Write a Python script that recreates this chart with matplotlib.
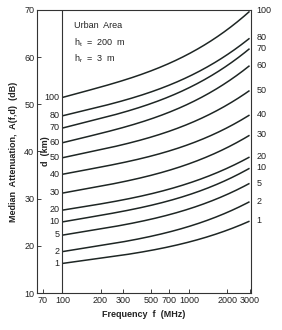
"""
Okumura median attenuation curves, urban area.
"""
import numpy as np
import matplotlib
matplotlib.use('Agg')
import matplotlib.pyplot as plt

plt.rcParams['font.family'] = ['Liberation Sans', 'DejaVu Sans']

# Frequency samples (MHz) and the distance curves (km)
freqs = [100, 200, 300, 500, 700, 1000, 2000, 3000]
distances = [100, 80, 70, 60, 50, 40, 30, 20, 10, 5, 2, 1]

# Median attenuation A(f,d) in dB, one list per distance
atten = {
    100: [51.5, 53.5, 55.0, 57.2, 58.8, 60.7, 65.6, 69.8],
    80: [47.6, 49.4, 50.7, 52.7, 54.2, 55.9, 60.3, 64.1],
    70: [45.0, 46.9, 48.2, 50.2, 51.8, 53.5, 58.0, 61.9],
    60: [41.9, 43.7, 45.0, 47.0, 48.5, 50.1, 54.5, 58.3],
    50: [38.7, 40.3, 41.4, 43.1, 44.4, 45.9, 49.7, 53.0],
    40: [35.2, 36.6, 37.6, 39.1, 40.2, 41.5, 44.9, 47.8],
    30: [31.2, 32.6, 33.5, 35.0, 36.1, 37.4, 40.7, 43.5],
    20: [27.6, 28.8, 29.7, 31.1, 32.1, 33.3, 36.3, 38.9],
    10: [25.1, 26.4, 27.3, 28.6, 29.7, 30.8, 33.9, 36.5],
    5: [22.3, 23.5, 24.4, 25.7, 26.7, 27.8, 30.8, 33.3],
    2: [18.8, 20.0, 20.8, 22.1, 23.0, 24.1, 27.0, 29.4],
    1: [16.3, 17.3, 18.0, 19.1, 19.9, 20.8, 23.2, 25.3],
}

xticks = [70, 100, 200, 300, 500, 700, 1000, 2000, 3000]
yticks = [10, 20, 30, 40, 50, 60, 70]

fig = plt.figure(figsize=(2.82, 3.30), dpi=100)
ax = fig.add_axes([0.131, 0.112, 0.759, 0.858])

ax.set_xscale('log')
ax.set_xlim(63, 3080)
ax.set_ylim(10, 70)

lf = np.log10(freqs)
lx = np.linspace(lf[0], lf[-1], 200)
for d in distances:
    # smooth cubic through the read points (in log frequency)
    p = np.polyfit(lf, atten[d], 3)
    ax.plot(10 ** lx, np.polyval(p, lx), color='#1e2624', lw=1.1,
            solid_capstyle='butt')
    ax.annotate(str(d), (freqs[0], atten[d][0]), xytext=(-2, 0),
                textcoords='offset points', ha='right', va='center',
                fontsize=6.5, color='#222222')
    ax.annotate(str(d), (freqs[-1], atten[d][-1]), xytext=(5, 0),
                textcoords='offset points', ha='left', va='center',
                fontsize=6.5, color='#222222', annotation_clip=False)

# Vertical line at 100 MHz
ax.axvline(100, color='#333333', lw=0.8)

fig.text(45 / 282, 1 - 151 / 330, 'd  (km)', rotation=90, ha='center',
         va='center', fontsize=6.5, fontweight='bold', color='#222222')

ax.text(0.175, 0.945, 'Urban  Area', transform=ax.transAxes, fontsize=6.5,
        ha='left', va='center', color='#222222')
ax.text(0.175, 0.885, r'h$_\mathregular{t}$  =  200  m', transform=ax.transAxes,
        fontsize=6.5, ha='left', va='center', color='#222222')
ax.text(0.175, 0.828, r'h$_\mathregular{r}$  =  3  m', transform=ax.transAxes,
        fontsize=6.5, ha='left', va='center', color='#222222')

ax.set_xticks(xticks)
ax.set_xticklabels([str(t) for t in xticks])
ax.xaxis.set_minor_locator(matplotlib.ticker.NullLocator())
ax.set_yticks(yticks)
ax.tick_params(axis='both', direction='in', length=3, width=0.6,
               labelsize=6.5, colors='#222222', pad=2)

for s in ax.spines.values():
    s.set_color('#333333')
    s.set_linewidth(0.8)

ax.set_xlabel('Frequency  f  (MHz)', fontsize=6.5, fontweight='bold',
              color='#222222', labelpad=4)
ax.set_ylabel('Median  Attenuation,  A(f,d)  (dB)', fontsize=6.5,
              fontweight='bold', color='#222222', labelpad=4)

plt.savefig('out.png', dpi=100)
